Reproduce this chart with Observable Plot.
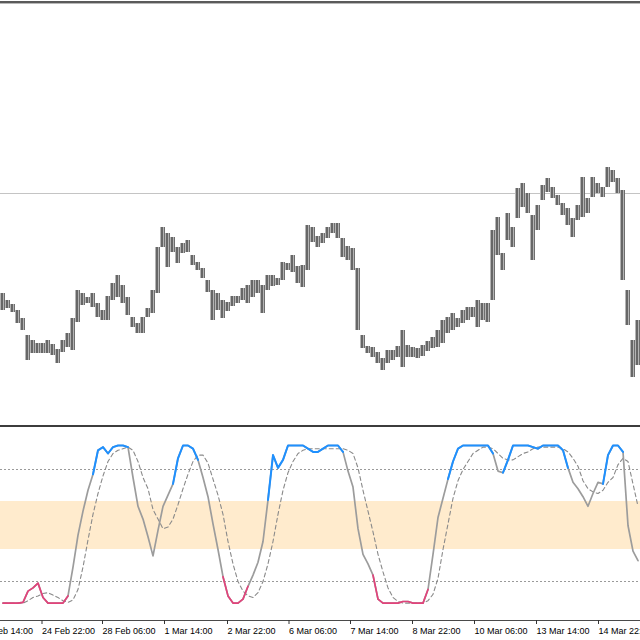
<!DOCTYPE html>
<html><head><meta charset="utf-8">
<script src="https://cdn.jsdelivr.net/npm/d3@7"></script>
<script src="https://cdn.jsdelivr.net/npm/@observablehq/plot@0.6"></script>
<style>
body{margin:0;background:#fff;}
#chart{position:relative;width:640px;height:640px;overflow:hidden;background:#fff;}
#top{position:absolute;left:0;top:0;}
#bottom{position:absolute;left:0;top:428px;}
.sep{position:absolute;left:0;width:640px;}
</style></head><body>
<div id="chart">
  <div id="top"></div>
  <div id="bottom"></div>
  <div class="sep" style="top:1px;height:2px;background:#5a5a5a"></div>
  <div class="sep" style="top:3px;height:1px;background:#b8b8b8"></div>
  <div class="sep" style="top:425px;height:2px;background:#3c3c3c"></div>
</div>
<script>
// Price bars (high / low), one every bar
const high = [
 1.0600,1.0593,1.0589,1.0583,1.0575,1.0558,1.0553,1.0550,1.0550,1.0553,
 1.0549,1.0544,1.0553,1.0560,1.0575,1.0603,1.0600,1.0596,1.0600,1.0590,
 1.0583,1.0597,1.0610,1.0618,1.0608,1.0596,1.0576,1.0570,1.0576,1.0585,
 1.0603,1.0646,1.0666,1.0660,1.0656,1.0646,1.0650,1.0653,1.0638,1.0631,
 1.0625,1.0613,1.0603,1.0600,1.0593,1.0591,1.0597,1.0597,1.0605,1.0608,
 1.0613,1.0613,1.0608,1.0618,1.0618,1.0615,1.0631,1.0630,1.0638,1.0627,
 1.0628,1.0668,1.0666,1.0657,1.0660,1.0666,1.0670,1.0670,1.0655,1.0647,
 1.0645,1.0625,1.0558,1.0547,1.0546,1.0541,1.0535,1.0543,1.0543,1.0547,
 1.0563,1.0548,1.0546,1.0545,1.0548,1.0552,1.0556,1.0563,1.0573,1.0576,
 1.0580,1.0575,1.0583,1.0586,1.0586,1.0593,1.0590,1.0590,1.0663,1.0676,
 1.0640,1.0680,1.0666,1.0705,1.0710,1.0700,1.0678,1.0688,1.0708,1.0715,
 1.0706,1.0698,1.0690,1.0685,1.0675,1.0688,1.0716,1.0695,1.0716,1.0710,
 1.0706,1.0726,1.0723,1.0715,1.0703,1.0603,1.0553,1.0573
];
const low = [
 1.0583,1.0585,1.0581,1.0570,1.0563,1.0533,1.0540,1.0540,1.0540,1.0540,
 1.0538,1.0530,1.0541,1.0546,1.0543,1.0571,1.0588,1.0590,1.0586,1.0576,
 1.0573,1.0573,1.0593,1.0596,1.0590,1.0578,1.0566,1.0560,1.0560,1.0576,
 1.0580,1.0600,1.0646,1.0626,1.0641,1.0630,1.0640,1.0641,1.0628,1.0623,
 1.0615,1.0601,1.0573,1.0583,1.0575,1.0582,1.0587,1.0590,1.0593,1.0590,
 1.0596,1.0600,1.0580,1.0603,1.0607,1.0608,1.0613,1.0623,1.0621,1.0610,
 1.0606,1.0623,1.0651,1.0646,1.0650,1.0655,1.0660,1.0655,1.0636,1.0633,
 1.0623,1.0563,1.0545,1.0540,1.0536,1.0530,1.0523,1.0530,1.0533,1.0536,
 1.0526,1.0536,1.0536,1.0535,1.0537,1.0542,1.0545,1.0546,1.0550,1.0560,
 1.0563,1.0566,1.0570,1.0573,1.0576,1.0566,1.0573,1.0571,1.0593,1.0638,
 1.0623,1.0653,1.0646,1.0675,1.0686,1.0680,1.0633,1.0663,1.0693,1.0701,
 1.0695,1.0688,1.0678,1.0668,1.0656,1.0673,1.0676,1.0680,1.0696,1.0700,
 1.0696,1.0706,1.0711,1.0700,1.0613,1.0568,1.0516,1.0528
];
const refPrice = 1.0700;

// Oscillator (main and signal)
const stochMain = [
 1.5,1.5,1.5,1.5,2,9,11,14,5,1.5,
 1.5,1.5,1.5,6,24,44,59,72,82,97,
 99,95,99,100,100,99,80,62,54,43,
 31,47,62,69,76,92,100,100,98,91,
 80,68,51,35,18,6,1.5,1.5,4,12,
 19,27,40,66,94,86,91,100,100,100,
 100,98,96,96,98,100,100,100,96,84,
 74,48,32,26,19,4,1.5,1.5,1.5,1.5,
 2.5,2.5,1.5,1.5,1.5,10,32,55,67,79,
 90,98,100,100,100,100,100,100,95,84,
 83,91,100,100,100,100,99,98,100,100,
 100,100,97,86,77,73,68,62,70,77,
 76,94,100,100,96,50,34,28
];
const stochSignal = [
 1.5,1.5,1.5,1.5,1.5,3,5,6,7.5,8,
 6.5,5,3,2,3.5,10,24,41,57,70,
 81,90,95,97,98,99,97,90,80,73,
 60,54,48,49,54,63,73,82,90,94,
 94,89,79,69,57,40,26,15,9,6,
 5,8,15,26,40,57,72,83,90,95,
 97,98,98,98,98,98,98,98,98,97,
 95,86,72,59,46,32,21,11,5,2.5,
 1.5,1.5,1.5,1.5,1.5,3,7,17,35,51,
 67,78,85,90,95,97,99,99,98,95,
 92,91,91,93,95,96,98,99,99,99,
 99,99,98,96,92,87,78,73,71,70,
 72,77,80,88,92,90,76,62
];
const levels = [15, 85];
const band = [35, 65];

// Time axis (bar positions and labels)
const tickPos = [-4.4, 8.0, 20.1, 32.5, 45.1, 57.4, 69.7, 82.1, 94.5, 106.9, 119.3];
const tickLabels = ["23 Feb 14:00","24 Feb 22:00","28 Feb 06:00","1 Mar 14:00","2 Mar 22:00",
  "6 Mar 06:00","7 Mar 14:00","8 Mar 22:00","10 Mar 06:00","13 Mar 14:00","14 Mar 22:00"];

const N = high.length;
const bars = high.map((h, i) => ({i, high: h, low: low[i]}));

const topPlot = Plot.plot({
  width: 640, height: 425, margin: 0,
  style: {background: "white"},
  x: {domain: [0, N], axis: null},
  y: {domain: [1.0468, 1.0893], axis: null},
  marks: [
    Plot.ruleY([refPrice], {stroke: "#c4c4c4", strokeWidth: 1}),
    Plot.rect(bars, {x1: d => d.i, x2: d => d.i + 1, y1: "low", y2: "high", fill: "#b4b4b4"}),
    Plot.ruleX(bars, {x: d => d.i + 0.3, y1: "low", y2: "high", stroke: "#3e3e3e", strokeWidth: 1.3}),
    Plot.ruleX(bars, {x: d => d.i + 0.8, y1: "low", y2: "high", stroke: "#6e6e6e", strokeWidth: 1})
  ]
});
document.getElementById("top").appendChild(topPlot);

const st = stochMain.map((v, i) => ({
  x: i + 0.5,
  main: v,
  signal: stochSignal[i],
  blue: (v > 85 || stochMain[i + 1] > 85) ? v : NaN,
  pink: (v < 15 || stochMain[i + 1] < 15) ? v : NaN
}));

const yMin = -9.375, yMax = 110.625;
const bottomPlot = Plot.plot({
  width: 640, height: 212, marginTop: 0, marginBottom: 20, marginLeft: 0, marginRight: 0,
  style: {background: "white", fontFamily: "'Liberation Sans', Arial, sans-serif", fontSize: "9px", color: "#000"},
  x: {domain: [0, N]},
  y: {domain: [yMin, yMax], axis: null},
  marks: [
    Plot.rect([band], {y1: d => d[0], y2: d => d[1], fill: "#ffebcd"}),
    Plot.ruleY(levels, {stroke: "#9a9a9a", strokeDasharray: "2,2", strokeWidth: 1}),
    Plot.line(st, {x: "x", y: "signal", stroke: "#8a8a8a", strokeDasharray: "4,3", strokeWidth: 1.1}),
    Plot.line(st, {x: "x", y: "main", stroke: "#9c9c9c", strokeWidth: 1.7}),
    Plot.line(st, {x: "x", y: "blue", stroke: "#1e90ff", strokeWidth: 2}),
    Plot.line(st, {x: "x", y: "pink", stroke: "#e2437b", strokeWidth: 1.7}),
    Plot.ruleY([yMin], {stroke: "#4a4a4a", strokeWidth: 1}),
    Plot.axisX({ticks: tickPos, tickFormat: d => tickLabels[tickPos.indexOf(d)], tickSize: 4,
      tickPadding: 3, textAnchor: "start", dx: 1.5, label: null, stroke: "#333", fill: "#000"})
  ]
});
document.getElementById("bottom").appendChild(bottomPlot);
</script>
</body></html>
